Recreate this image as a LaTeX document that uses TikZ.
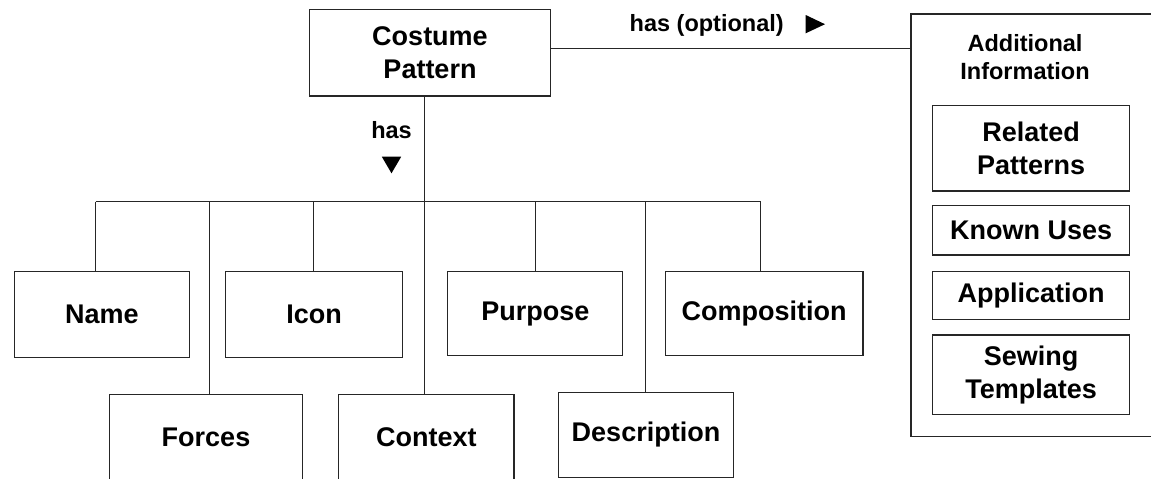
\documentclass[tikz,border=0pt]{standalone}
\usepackage{fontspec}
\setmainfont{Liberation Sans}
\begin{document}
\begin{tikzpicture}[x=1pt,y=-1pt,
  linecol/.style={draw=black!85, line width=1.3pt},
  box/.style={linecol, align=center, inner sep=0pt,
    font=\bfseries\fontsize{27}{33.5}\selectfont},
  lbl/.style={inner sep=0pt, align=center,
    font=\bfseries\fontsize{23.5}{28.3}\selectfont},
  wire/.style={linecol}]
\useasboundingbox (0,0) rectangle (1151,479);
\clip (0,0) rectangle (1151,479);

% root element
\node[box, minimum width=240.7, minimum height=86.7] (costume) at (430,52.7) {Costume\\Pattern};

% mandatory parts, upper row
\node[box, minimum width=175,   minimum height=86] (name)        at (102,314.7)   {Name};
\node[box, minimum width=176.8, minimum height=86] (icon)        at (314.2,314.7) {Icon};
\node[box, minimum width=175,   minimum height=84] (purpose)     at (535.3,313.7) {Purpose};
\node[box, minimum width=197.8, minimum height=84] (composition) at (764.1,313.7) {Composition};

% mandatory parts, lower row
\node[box, minimum width=192.5, minimum height=86]   (forces)      at (206,437.4)   {Forces};
\node[box, minimum width=175.3, minimum height=86]   (context)     at (426.4,437.4) {Context};
\node[box, minimum width=175.3, minimum height=85.2] (description) at (646,434.9)   {Description};

% optional parts
\node[linecol, minimum width=259, minimum height=422.7, inner sep=0pt] (additional) at (1040.5,225.3) {};
\node[lbl, anchor=north] (addtitle) at (1025,34) {Additional\\Information};
\node[box, minimum width=197, minimum height=85.7] (related)     at (1031.2,148.2) {Related\\Patterns};
\node[box, minimum width=197, minimum height=49.3] (known)       at (1031.2,230.3) {Known Uses};
\node[box, minimum width=197, minimum height=47.6] (application) at (1031.2,295.5) {Application};
\node[box, minimum width=197, minimum height=79.7] (sewing)      at (1031.2,374.8) {Sewing\\Templates};

% tree of "has" relations
\coordinate (b1) at (95.7,201.7);
\coordinate (b2) at (209.3,201.7);
\coordinate (b3) at (313.8,201.7);
\coordinate (b4) at (424.8,201.7);
\coordinate (b5) at (535.8,201.7);
\coordinate (b6) at (645.6,201.7);
\coordinate (b7) at (760.5,201.7);
\draw[wire] (costume.south -| b4) -- (b4);
\draw[wire] (b1) -- (b7);
\draw[wire] (b1) -- (b1 |- name.north);
\draw[wire] (b2) -- (b2 |- forces.north);
\draw[wire] (b3) -- (b3 |- icon.north);
\draw[wire] (b4) -- (b4 |- context.north);
\draw[wire] (b5) -- (b5 |- purpose.north);
\draw[wire] (b6) -- (b6 |- description.north);
\draw[wire] (b7) -- (b7 |- composition.north);

\node[lbl, anchor=base] (haslbl) at (391.5,138.3) {has};
\fill[black] (381.8,156.7) -- (401.2,156.7) -- (391.5,173.3) -- cycle;

% optional relation
\coordinate (opt) at (730,48.3);
\draw[wire] (costume.east |- opt) -- (additional.west |- opt);
\node[lbl, anchor=base] (optlbl) at (706.7,31.7) {has (optional)};
\fill[black] (805.7,15) -- (825,24.2) -- (805.7,33.3) -- cycle;
\end{tikzpicture}
\end{document}
